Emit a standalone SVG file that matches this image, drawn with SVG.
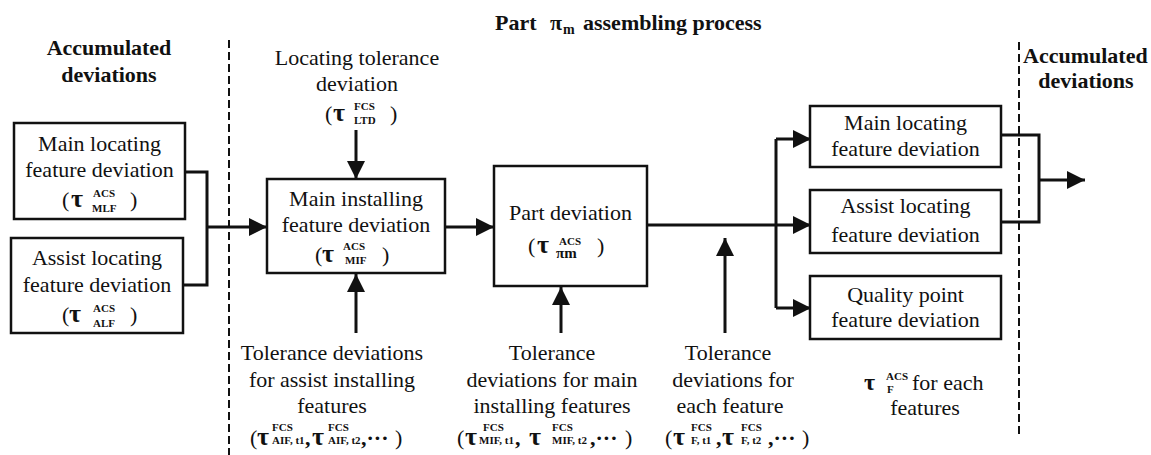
<svg xmlns="http://www.w3.org/2000/svg" width="1151" height="455" viewBox="0 0 1151 455" font-family="Liberation Serif">
<style>
.dbox{fill:#fff;stroke:#111;stroke-width:2.5}
.dln{stroke:#111;stroke-width:3;fill:none}
.ddash{stroke:#111;stroke-width:2;stroke-dasharray:8 4;fill:none}
</style>
<defs>
<marker id="ah" markerUnits="userSpaceOnUse" markerWidth="20" markerHeight="20" refX="18" refY="9" orient="auto">
<path d="M0,0 L18,9 L0,18 z" fill="#111"/>
</marker>
</defs>
<rect width="1151" height="455" fill="#fff"/>

<g id="title" font-family="Liberation Serif" font-size="22" font-weight="bold" fill="#111">
<text y="30"><tspan x="495">Part</tspan><tspan x="550">π</tspan><tspan x="563" y="34" font-size="14">m</tspan><tspan x="583" y="30">assembling process</tspan></text>
</g>

<g id="acc-left" font-family="Liberation Serif" font-size="22" font-weight="bold" fill="#111" text-anchor="middle">
<text x="109" y="55">Accumulated</text>
<text x="109" y="82">deviations</text>
</g>
<g id="acc-right" font-family="Liberation Serif" font-size="22" font-weight="bold" fill="#111">
<text x="1023" y="63">Accumulated</text>
<text x="1086" y="88" text-anchor="middle">deviations</text>
</g>

<g id="dividers">
<line class="ddash" x1="229" y1="40" x2="229" y2="455"/>
<line class="ddash" x1="1019" y1="42" x2="1019" y2="437"/>
</g>

<g id="connectors">
<polyline class="dln" points="185,172 207,172 207,285 183,285"/>
<line class="dln" x1="207" y1="227" x2="267" y2="227" marker-end="url(#ah)"/>
<line class="dln" x1="356" y1="130" x2="356" y2="179" marker-end="url(#ah)"/>
<line class="dln" x1="356" y1="333" x2="356" y2="274" marker-end="url(#ah)"/>
<line class="dln" x1="445" y1="227" x2="494" y2="227" marker-end="url(#ah)"/>
<line class="dln" x1="561" y1="333" x2="561" y2="287" marker-end="url(#ah)"/>
<line class="dln" x1="647" y1="225" x2="811" y2="225" marker-end="url(#ah)"/>
<line class="dln" x1="725" y1="333" x2="725" y2="238" marker-end="url(#ah)"/>
<line class="dln" x1="776" y1="139" x2="776" y2="308"/>
<line class="dln" x1="776" y1="139" x2="811" y2="139" marker-end="url(#ah)"/>
<line class="dln" x1="776" y1="308" x2="811" y2="308" marker-end="url(#ah)"/>
<polyline class="dln" points="1001,135 1039,135 1039,222 1001,222"/>
<line class="dln" x1="1039" y1="180" x2="1085" y2="180" marker-end="url(#ah)"/>
</g>

<g id="mlf" font-family="Liberation Serif" font-size="22" fill="#111">
<rect class="dbox" x="14" y="123" width="171" height="96"/>
<text x="99.5" y="151" text-anchor="middle">Main locating</text>
<text x="99.5" y="177" text-anchor="middle">feature deviation</text>
<text><tspan x="62" y="207">(</tspan><tspan x="71" y="207" font-size="26" font-weight="bold">τ</tspan><tspan x="93" y="197" font-size="11" font-weight="bold">ACS</tspan><tspan x="92" y="212" font-size="11" font-weight="bold">MLF</tspan><tspan x="130" y="207">)</tspan></text>
</g>

<g id="alf" font-family="Liberation Serif" font-size="22" fill="#111">
<rect class="dbox" x="11" y="238" width="172" height="95"/>
<text x="97" y="265" text-anchor="middle">Assist locating</text>
<text x="97" y="292" text-anchor="middle">feature deviation</text>
<text><tspan x="62" y="322">(</tspan><tspan x="69" y="322" font-size="26" font-weight="bold">τ</tspan><tspan x="93" y="312" font-size="11" font-weight="bold">ACS</tspan><tspan x="93" y="327" font-size="11" font-weight="bold">ALF</tspan><tspan x="130" y="322">)</tspan></text>
</g>

<g id="ltd" font-family="Liberation Serif" font-size="22" fill="#111">
<text x="357" y="65" text-anchor="middle">Locating tolerance</text>
<text x="357" y="91" text-anchor="middle">deviation</text>
<text><tspan x="325" y="121">(</tspan><tspan x="333" y="121" font-size="26" font-weight="bold">τ</tspan><tspan x="354" y="110" font-size="11" font-weight="bold">FCS</tspan><tspan x="354" y="124" font-size="11" font-weight="bold">LTD</tspan><tspan x="390" y="121">)</tspan></text>
</g>

<g id="mif" font-family="Liberation Serif" font-size="22" fill="#111">
<rect class="dbox" x="267" y="179" width="178" height="94"/>
<text x="356" y="206" text-anchor="middle">Main installing</text>
<text x="356" y="232" text-anchor="middle">feature deviation</text>
<text><tspan x="315" y="262">(</tspan><tspan x="322" y="262" font-size="26" font-weight="bold">τ</tspan><tspan x="343" y="250" font-size="11" font-weight="bold">ACS</tspan><tspan x="345" y="264" font-size="11" font-weight="bold">MIF</tspan><tspan x="382" y="262">)</tspan></text>
</g>

<g id="part" font-family="Liberation Serif" font-size="22" fill="#111">
<rect class="dbox" x="494" y="166" width="153" height="120"/>
<text x="570.5" y="220" text-anchor="middle">Part deviation</text>
<text><tspan x="528" y="253">(</tspan><tspan x="537" y="253" font-size="26" font-weight="bold">τ</tspan><tspan x="559" y="245" font-size="11" font-weight="bold">ACS</tspan><tspan x="556" y="258" font-size="15" font-weight="bold">πm</tspan><tspan x="597" y="253">)</tspan></text>
</g>

<g id="out-mlf" font-family="Liberation Serif" font-size="22" fill="#111" text-anchor="middle">
<rect class="dbox" x="810" y="106" width="191" height="61"/>
<text x="905.5" y="130">Main locating</text>
<text x="905.5" y="156">feature deviation</text>
</g>
<g id="out-alf" font-family="Liberation Serif" font-size="22" fill="#111" text-anchor="middle">
<rect class="dbox" x="810" y="190" width="191" height="63"/>
<text x="905.5" y="213">Assist locating</text>
<text x="905.5" y="242">feature deviation</text>
</g>
<g id="out-qpf" font-family="Liberation Serif" font-size="22" fill="#111" text-anchor="middle">
<rect class="dbox" x="810" y="276" width="191" height="63"/>
<text x="905.5" y="302">Quality point</text>
<text x="905.5" y="327">feature deviation</text>
</g>

<g id="tol-aif" font-family="Liberation Serif" font-size="22" fill="#111">
<text x="332" y="360" text-anchor="middle">Tolerance deviations</text>
<text x="332" y="387" text-anchor="middle">for assist installing</text>
<text x="332" y="413" text-anchor="middle">features</text>
<text><tspan x="250" y="445">(</tspan><tspan x="257" y="445" font-size="26" font-weight="bold">τ</tspan><tspan x="272" y="431" font-size="11" font-weight="bold">FCS</tspan><tspan x="272" y="444" font-size="11" font-weight="bold">AIF, t1</tspan><tspan x="305" y="445" font-weight="bold">,</tspan><tspan x="312" y="445" font-size="26" font-weight="bold">τ</tspan><tspan x="328" y="431" font-size="11" font-weight="bold">FCS</tspan><tspan x="328" y="444" font-size="11" font-weight="bold">AIF, t2</tspan><tspan x="361" y="445" font-weight="bold">,···</tspan><tspan x="395" y="445">)</tspan></text>
</g>

<g id="tol-mif" font-family="Liberation Serif" font-size="22" fill="#111">
<text x="552" y="360" text-anchor="middle">Tolerance</text>
<text x="552" y="387" text-anchor="middle">deviations for main</text>
<text x="552" y="413" text-anchor="middle">installing features</text>
<text><tspan x="457" y="445">(</tspan><tspan x="465" y="445" font-size="26" font-weight="bold">τ</tspan><tspan x="483" y="431" font-size="11" font-weight="bold">FCS</tspan><tspan x="479" y="444" font-size="11" font-weight="bold">MIF, t1</tspan><tspan x="515" y="445" font-weight="bold">,</tspan><tspan x="529" y="445" font-size="26" font-weight="bold">τ</tspan><tspan x="552" y="431" font-size="11" font-weight="bold">FCS</tspan><tspan x="552" y="444" font-size="11" font-weight="bold">MIF, t2</tspan><tspan x="590" y="445" font-weight="bold">,···</tspan><tspan x="625" y="445">)</tspan></text>
</g>

<g id="tol-f" font-family="Liberation Serif" font-size="22" fill="#111">
<text x="728" y="360" text-anchor="middle">Tolerance</text>
<text x="733" y="387" text-anchor="middle">deviations for</text>
<text x="730" y="413" text-anchor="middle">each feature</text>
<text><tspan x="665" y="445">(</tspan><tspan x="673" y="445" font-size="26" font-weight="bold">τ</tspan><tspan x="691" y="431" font-size="11" font-weight="bold">FCS</tspan><tspan x="691" y="444" font-size="11" font-weight="bold">F, t1</tspan><tspan x="716" y="445" font-weight="bold">,</tspan><tspan x="722" y="445" font-size="26" font-weight="bold">τ</tspan><tspan x="741" y="431" font-size="11" font-weight="bold">FCS</tspan><tspan x="741" y="444" font-size="11" font-weight="bold">F, t2</tspan><tspan x="768" y="445" font-weight="bold">,···</tspan><tspan x="802" y="445">)</tspan></text>
</g>

<g id="each-f" font-family="Liberation Serif" font-size="22" fill="#111">
<text><tspan x="864" y="390" font-size="24" font-weight="bold">τ</tspan><tspan x="886" y="380" font-size="11" font-weight="bold">ACS</tspan><tspan x="887" y="393" font-size="11" font-weight="bold">F</tspan><tspan x="912" y="390">for each</tspan></text>
<text x="925" y="415" text-anchor="middle">features</text>
</g>
</svg>
